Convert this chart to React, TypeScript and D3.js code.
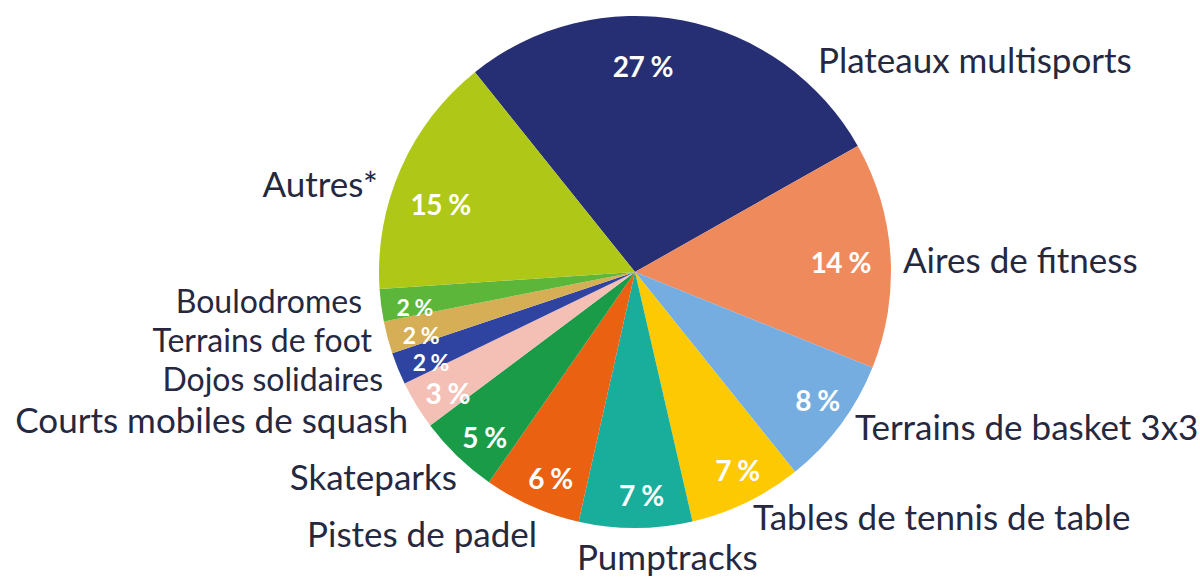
import React from "react";
import * as d3 from "d3";

const categories = [
  "Plateaux multisports",
  "Aires de fitness",
  "Terrains de basket 3x3",
  "Tables de tennis de table",
  "Pumptracks",
  "Pistes de padel",
  "Skateparks",
  "Courts mobiles de squash",
  "Dojos solidaires",
  "Terrains de foot",
  "Boulodromes",
  "Autres*",
];
const values = [27, 14, 8, 7, 7, 6, 5, 3, 2, 2, 2, 15];
const colors = [
  "#272f74",
  "#ef8a5c",
  "#76ade0",
  "#fdc903",
  "#19ad9c",
  "#ea6112",
  "#1a9b48",
  "#f4c0b6",
  "#2f44a0",
  "#d6ae55",
  "#5bb63a",
  "#afc716",
];

const W = 1200;
const H = 577;
const CX = 635;
const CY = 272;
const R = 256;
const START = (-38.7 * Math.PI) / 180;

// outer label layout relative to pie centre
const layout: Record<number, { dx: number; dy: number; anchor: string; size: number }> = {
  0: { dx: 183, dy: -199, anchor: "start", size: 35 },
  1: { dx: 268, dy: 1, anchor: "start", size: 35 },
  2: { dx: 220, dy: 168, anchor: "start", size: 35 },
  3: { dx: 118, dy: 258, anchor: "start", size: 35 },
  4: { dx: -58, dy: 298, anchor: "start", size: 35 },
  5: { dx: -98, dy: 275, anchor: "end", size: 35 },
  6: { dx: -178, dy: 218, anchor: "end", size: 35 },
  7: { dx: -227, dy: 161, anchor: "end", size: 35 },
  8: { dx: -252, dy: 119, anchor: "end", size: 32 },
  9: { dx: -263, dy: 80, anchor: "end", size: 32 },
  10: { dx: -273, dy: 41, anchor: "end", size: 32 },
  11: { dx: -257, dy: -75, anchor: "end", size: 35 },
};

export default function App() {
  const pie = d3
    .pie<number>()
    .value((d) => d)
    .sort(null)
    .startAngle(START)
    .endAngle(START + 2 * Math.PI);
  const arcs = pie(values);
  const arc = d3.arc<d3.PieArcDatum<number>>().innerRadius(0).outerRadius(R);

  const pctPos = (a: d3.PieArcDatum<number>, i: number) => {
    const mid = (a.startAngle + a.endAngle) / 2;
    const r = a.data >= 14 ? 206 : 223;
    let da = (-1.5 * Math.PI) / 180;
    if (i === 0) da = (-8.7 * Math.PI) / 180;
    if (i === 1) da = (1 * Math.PI) / 180;
    if (i === 11) da = (-4.5 * Math.PI) / 180;
    const ang = mid + da;
    return [Math.sin(ang) * r, -Math.cos(ang) * r];
  };

  return (
    <svg
      width={W}
      height={H}
      style={{ position: "fixed", left: 0, top: 0, background: "#fff" }}
    >
      <g transform={`translate(${CX},${CY})`}>
        {arcs.map((a, i) => (
          <path key={i} d={arc(a) || ""} fill={colors[i]} />
        ))}
        {arcs.map((a, i) => {
          const [x, y] = pctPos(a, i);
          return (
            <text
              key={"p" + i}
              x={x}
              y={y}
              textAnchor="middle"
              dominantBaseline="central"
              fill="#fff"
              fontFamily="Lato, 'Open Sans', sans-serif"
              fontWeight={700}
              fontSize={a.data <= 2 ? 23 : 28}
              letterSpacing={-0.5}
            >
              {`${a.data} %`}
            </text>
          );
        })}
        {categories.map((c, i) => (
          <text
            key={"l" + i}
            x={layout[i].dx}
            y={layout[i].dy}
            textAnchor={layout[i].anchor as any}
            fill="#25283f"
            fontFamily="Lato, 'Open Sans', sans-serif"
            fontSize={layout[i].size}
          >
            {c}
          </text>
        ))}
      </g>
    </svg>
  );
}
